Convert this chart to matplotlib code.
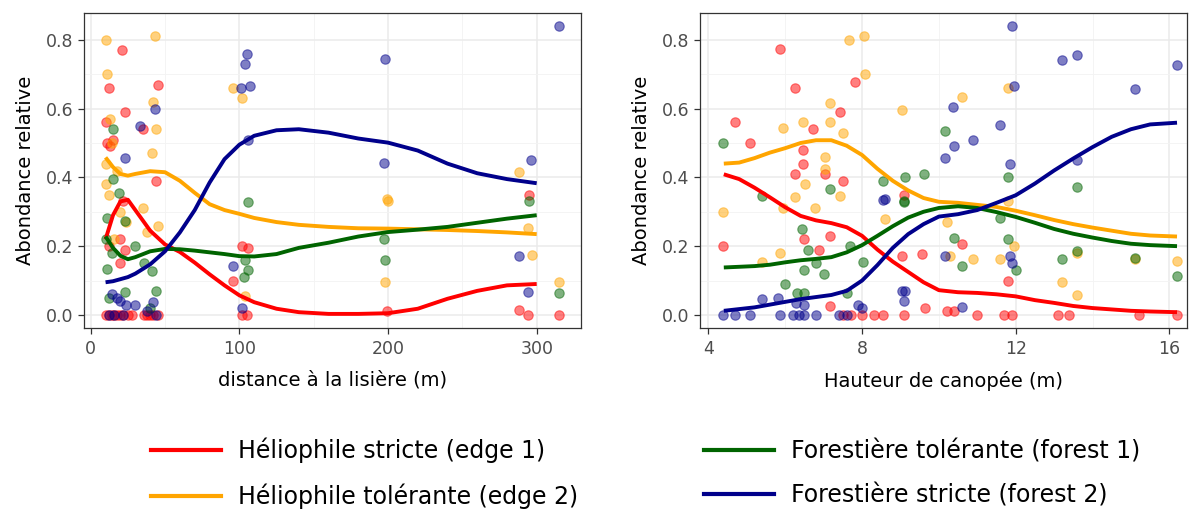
import matplotlib
matplotlib.use("Agg")
import matplotlib.pyplot as plt
from matplotlib.lines import Line2D
from matplotlib.ticker import MultipleLocator

plt.rcParams['font.family'] = ['DejaVu Sans']

groups = ["Héliophile stricte (edge 1)", "Héliophile tolérante (edge 2)",
          "Forestière tolérante (forest 1)", "Forestière stricte (forest 2)"]
pt_colors = ["red", "orange", "darkgreen", "darkblue"]
line_colors = ["red", "orange", "darkgreen", "darkblue"]

# ---- panel 1 : distance a la lisiere ----
d_red_x = [21, 12, 45, 23, 10, 35, 11, 13, 15, 44, 22, 12, 20, 23, 20, 96, 102, 106, 295,
           10, 12, 14, 16, 18, 20, 22, 25, 28, 36, 38, 40, 42, 45, 102, 105, 199, 288, 294, 315]
d_red_y = [0.77, 0.66, 0.67, 0.59, 0.56, 0.54, 0.50, 0.49, 0.51, 0.39, 0.33, 0.20, 0.22, 0.19, 0.15, 0.10, 0.20, 0.195, 0.35,
           0, 0, 0, 0, 0, 0, 0, 0, 0, 0, 0, 0, 0, 0, 0, 0, 0.01, 0.015, 0, 0]
d_org_x = [10, 43, 11, 96, 102, 42, 44, 13, 41, 10, 10, 24, 35, 45, 104, 288, 199, 200, 294, 297,
           198, 315, 14, 18, 20, 38, 12, 16]
d_org_y = [0.80, 0.81, 0.70, 0.66, 0.63, 0.62, 0.54, 0.57, 0.47, 0.44, 0.38, 0.27, 0.31, 0.26, 0.056, 0.415, 0.336, 0.33, 0.254, 0.174,
           0.097, 0.097, 0.50, 0.42, 0.30, 0.24, 0.35, 0.22]
d_grn_x = [15, 15, 19, 11, 23, 11, 41, 44, 23, 106, 106, 103, 197, 198, 295, 315, 10, 14, 30, 36, 104, 12, 40]
d_grn_y = [0.54, 0.395, 0.355, 0.283, 0.273, 0.133, 0.128, 0.07, 0.068, 0.327, 0.13, 0.11, 0.22, 0.16, 0.33, 0.064,
           0.22, 0.18, 0.20, 0.15, 0.16, 0.05, 0.02]
d_blu_x = [105, 104, 101, 107, 43, 33, 23, 106, 96, 198, 197, 296, 288, 294, 315, 14, 18, 20, 24, 42, 102,
           12, 16, 22, 38, 44, 30]
d_blu_y = [0.76, 0.73, 0.66, 0.665, 0.60, 0.55, 0.457, 0.51, 0.143, 0.744, 0.443, 0.45, 0.172, 0.066, 0.84,
           0.06, 0.05, 0.04, 0.03, 0.037, 0.02, 0, 0, 0, 0.01, 0, 0.03]

# smoothed curves
d_fit_x = [10, 15, 20, 25, 30, 40, 50, 60, 70, 80, 90, 100, 110, 125, 140, 160, 180, 200, 220, 240, 260, 280, 300]
d_fit_red = [0.22, 0.29, 0.33, 0.335, 0.305, 0.245, 0.205, 0.183, 0.152, 0.118, 0.086, 0.057, 0.037, 0.018,
             0.008, 0.003, 0.003, 0.005, 0.018, 0.047, 0.07, 0.086, 0.09]
d_fit_org = [0.458, 0.43, 0.41, 0.405, 0.41, 0.418, 0.415, 0.39, 0.355, 0.322, 0.305, 0.294, 0.282, 0.27,
             0.262, 0.256, 0.252, 0.251, 0.249, 0.247, 0.244, 0.24, 0.235]
d_fit_grn = [0.228, 0.195, 0.172, 0.162, 0.168, 0.185, 0.192, 0.191, 0.187, 0.182, 0.177, 0.171, 0.17, 0.177,
             0.195, 0.21, 0.228, 0.241, 0.248, 0.256, 0.268, 0.28, 0.29]
d_fit_blu = [0.095, 0.098, 0.104, 0.11, 0.12, 0.147, 0.185, 0.24, 0.305, 0.385, 0.453, 0.495, 0.521, 0.537,
             0.54, 0.53, 0.513, 0.501, 0.478, 0.44, 0.412, 0.395, 0.383]

# ---- panel 2 : hauteur de canopee ----
h_red_x = [5.87, 6.26, 7.82, 4.69, 5.08, 7.42, 6.73, 6.47, 6.26, 7.04, 7.51, 6.47, 4.39, 7.17, 6.5, 6.87, 9.08, 9.05,
           10.6, 9.55, 11.8, 7.17, 7.5, 7.7, 8.0, 8.3, 8.55, 9.1, 9.64, 10.2, 10.4, 11.0, 11.7, 11.9, 13.1, 13.4, 15.2, 16.2]
h_red_y = [0.773, 0.66, 0.676, 0.56, 0.50, 0.59, 0.54, 0.44, 0.41, 0.41, 0.39, 0.48, 0.20, 0.23, 0.22, 0.19, 0.35, 0.17,
           0.206, 0.177, 0.10, 0.027, 0, 0, 0, 0, 0, 0, 0.02, 0.01, 0.01, 0, 0, 0, 0, 0, 0, 0]
h_org_x = [7.67, 8.05, 8.08, 7.17, 6.47, 7.17, 7.5, 5.95, 9.03, 4.39, 6.26, 7.04, 6.52, 6.78, 7.42, 5.87, 8.6,
           10.6, 11.8, 11.8, 10.2, 10.3, 10.9, 11.6, 11.95, 13.2, 13.6, 15.1, 16.2, 13.6, 5.39, 5.95, 7.04]
h_org_y = [0.80, 0.81, 0.70, 0.617, 0.56, 0.56, 0.53, 0.545, 0.597, 0.30, 0.344, 0.46, 0.38, 0.312, 0.346, 0.18, 0.278,
           0.634, 0.66, 0.33, 0.27, 0.172, 0.162, 0.162, 0.20, 0.097, 0.058, 0.162, 0.157, 0.18, 0.153, 0.312, 0.423]
h_grn_x = [4.39, 5.39, 6.43, 6.6, 6.5, 6.8, 7.0, 7.17, 7.69, 8.03, 8.55, 9.12, 9.1, 6.0, 6.3, 6.5, 7.6,
           9.6, 10.16, 9.08, 11.6, 11.8, 11.8, 10.6, 12.0, 10.4, 13.6, 13.2, 15.1, 16.2, 13.6]
h_grn_y = [0.50, 0.346, 0.25, 0.19, 0.13, 0.15, 0.12, 0.365, 0.20, 0.153, 0.39, 0.40, 0.33, 0.09, 0.063, 0.063, 0.065,
           0.41, 0.534, 0.327, 0.283, 0.40, 0.22, 0.143, 0.13, 0.225, 0.373, 0.162, 0.166, 0.114, 0.185]
h_blu_x = [8.6, 9.12, 9.1, 5.39, 5.8, 6.27, 6.5, 7.9, 8.0, 10.16, 10.4, 10.9, 10.36, 11.6, 11.85, 8.55, 10.16, 11.85,
           11.9, 9.03, 10.6, 11.9, 13.2, 13.6, 15.1, 16.2, 11.95, 13.6,
           4.39, 4.7, 5.08, 5.87, 6.2, 6.35, 6.5, 6.8, 7.4, 7.6]
h_blu_y = [0.336, 0.07, 0.04, 0.046, 0.05, 0.036, 0.03, 0.03, 0.02, 0.457, 0.49, 0.51, 0.604, 0.552, 0.44, 0.333, 0.172, 0.17,
           0.15, 0.07, 0.022, 0.84, 0.742, 0.757, 0.657, 0.728, 0.667, 0.45,
           0, 0, 0, 0, 0, 0, 0, 0, 0, 0]

h_fit_x = [4.4, 4.8, 5.2, 5.6, 6.0, 6.4, 6.8, 7.2, 7.6, 8.0, 8.4, 8.8, 9.2, 9.6, 10.0, 10.5, 11.0, 11.5, 12.0,
           12.5, 13.0, 13.5, 14.0, 14.5, 15.0, 15.5, 16.2]
h_fit_red = [0.409, 0.395, 0.37, 0.342, 0.313, 0.288, 0.275, 0.267, 0.255, 0.23, 0.19, 0.155, 0.125, 0.095, 0.072,
             0.066, 0.064, 0.06, 0.054, 0.043, 0.035, 0.026, 0.02, 0.016, 0.012, 0.01, 0.008]
h_fit_org = [0.44, 0.443, 0.456, 0.472, 0.485, 0.5, 0.508, 0.508, 0.492, 0.465, 0.425, 0.39, 0.362, 0.34, 0.329,
             0.326, 0.32, 0.314, 0.303, 0.29, 0.276, 0.264, 0.254, 0.245, 0.236, 0.231, 0.228]
h_fit_grn = [0.138, 0.14, 0.142, 0.146, 0.153, 0.159, 0.163, 0.168, 0.182, 0.203, 0.23, 0.258, 0.283, 0.3, 0.311,
             0.316, 0.311, 0.299, 0.285, 0.268, 0.25, 0.236, 0.225, 0.215, 0.207, 0.203, 0.2]
h_fit_blu = [0.012, 0.017, 0.022, 0.03, 0.038, 0.046, 0.052, 0.058, 0.07, 0.1, 0.145, 0.195, 0.235, 0.264, 0.286,
             0.293, 0.305, 0.326, 0.348, 0.382, 0.42, 0.455, 0.488, 0.518, 0.54, 0.554, 0.559]

fig = plt.figure(figsize=(11.98, 5.12), dpi=100)
ax1 = fig.add_axes([84 / 1198, 1 - 328 / 512, 497 / 1198, 315 / 512])
ax2 = fig.add_axes([700 / 1198, 1 - 328 / 512, 487 / 1198, 315 / 512])


def draw_panel(ax, pts, fit_x, fits, xlabel, xlim, xmajor, xminor):
    for (px, py), c in zip(pts, pt_colors):
        ax.scatter(px, py, s=46, color=c, alpha=0.5, edgecolors=c, linewidths=0.8, zorder=2)
    for fy, c in zip(fits, line_colors):
        ax.plot(fit_x, fy, color=c, lw=2.8, zorder=3, solid_capstyle='butt')
    ax.set_xlim(*xlim)
    ax.set_ylim(-0.038, 0.878)
    ax.xaxis.set_major_locator(MultipleLocator(xmajor))
    ax.xaxis.set_minor_locator(MultipleLocator(xminor))
    ax.yaxis.set_major_locator(MultipleLocator(0.2))
    ax.yaxis.set_minor_locator(MultipleLocator(0.1))
    ax.yaxis.set_major_formatter(plt.FuncFormatter(lambda v, p: "%.1f" % v))
    ax.grid(True, which='major', color='#EBEBEB', lw=1.1, zorder=0)
    ax.grid(True, which='minor', color='#F3F3F3', lw=0.6, zorder=0)
    ax.set_axisbelow(True)
    for sp in ax.spines.values():
        sp.set_color('#333333')
        sp.set_linewidth(0.9)
    ax.tick_params(which='major', length=4, width=0.9, color='#333333', labelcolor='#4D4D4D', labelsize=12.5)
    ax.tick_params(axis='x', which='major', pad=5)
    ax.tick_params(which='minor', length=0)
    ax.set_xlabel(xlabel, fontsize=14, labelpad=9)
    ax.set_ylabel("Abondance relative", fontsize=14, labelpad=8)


draw_panel(ax1, [(d_red_x, d_red_y), (d_org_x, d_org_y), (d_grn_x, d_grn_y), (d_blu_x, d_blu_y)],
           d_fit_x, [d_fit_red, d_fit_org, d_fit_grn, d_fit_blu],
           "distance à la lisière (m)", (-4.5, 329.8), 100, 50)
draw_panel(ax2, [(h_red_x, h_red_y), (h_org_x, h_org_y), (h_grn_x, h_grn_y), (h_blu_x, h_blu_y)],
           h_fit_x, [h_fit_red, h_fit_org, h_fit_grn, h_fit_blu],
           "Hauteur de canopée (m)", (3.78, 16.46), 4, 2)

handles = [Line2D([], [], color=c, lw=3) for c in line_colors]
leg_kw = dict(loc='center left', frameon=False, fontsize=17, handlelength=2.97, handletextpad=0.72,
              labelspacing=0.86, borderpad=0, borderaxespad=0)
fig.legend(handles[:2], groups[:2], bbox_to_anchor=(151 / 1198, 1 - 473.5 / 512), **leg_kw)
fig.legend(handles[2:], groups[2:], bbox_to_anchor=(704 / 1198, 1 - 473.5 / 512), **leg_kw)

plt.savefig("out.png", dpi=100)
